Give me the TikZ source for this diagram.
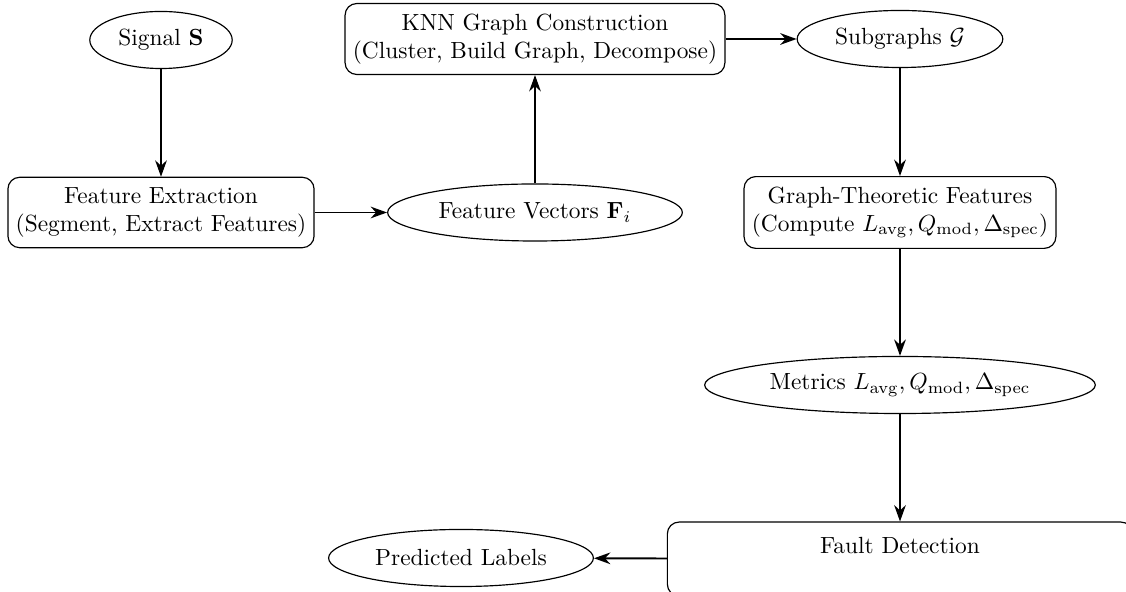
\documentclass[tikz,border=0pt]{standalone}
\usetikzlibrary{arrows.meta,shapes.geometric}
\begin{document}
\begin{tikzpicture}[x=0.4277pt,y=-0.4277pt,
  proc/.style={draw,rounded corners=5pt,align=center,line width=0.5pt,inner ysep=4.4pt},
  term/.style={draw,ellipse,line width=0.5pt,minimum height=24.4pt},
  conn/.style={-{Stealth[length=7pt,width=5pt]},line width=0.8pt}]
\clip (0,0) rectangle (1126,592);
\node[term] (sig) at (161,40) {Signal $\mathbf{S}$};
\node[proc] (fe) at (161,212.5) {Feature Extraction\\(Segment, Extract Features)};
\node[term] (fv) at (535,212.5) {Feature Vectors $\mathbf{F}_i$};
\node[proc] (knn) at (535,39) {KNN Graph Construction\\(Cluster, Build Graph, Decompose)};
\node[term] (sub) at (900,39) {Subgraphs $\mathcal{G}$};
\node[proc] (gtf) at (900,212.5) {Graph-Theoretic Features\\(Compute $L_{\mathrm{avg}}, Q_{\mathrm{mod}}, \Delta_{\mathrm{spec}}$)};
\node[term] (met) at (900,385) {Metrics $L_{\mathrm{avg}}, Q_{\mathrm{mod}}, \Delta_{\mathrm{spec}}$};
\node[proc,minimum width=199pt,minimum height=31.6pt] (fd) at (900,559) {Fault Detection\\ ~};
\node[term] (pl) at (461,558) {Predicted Labels};
\draw[conn] (sig) -- (fe);
\draw[conn] (fe) -- (fv);
\draw[conn] (fv) -- (knn);
\draw[conn] (knn) -- (sub);
\draw[conn] (sub) -- (gtf);
\draw[conn] (gtf) -- (met);
\draw[conn] (met) -- (fd);
\draw[conn] (fd) -- (pl);
\end{tikzpicture}
\end{document}
